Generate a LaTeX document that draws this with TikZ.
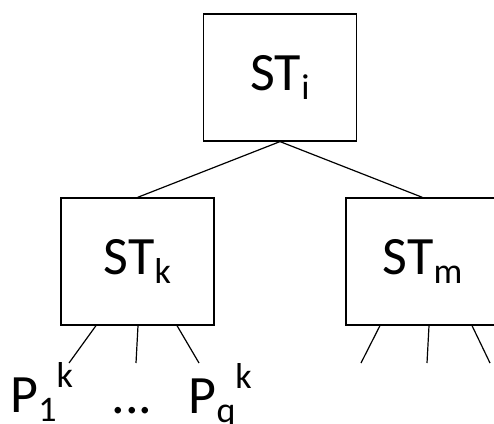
\documentclass[tikz,border=0pt]{standalone}
\usepackage{fontspec}
\setmainfont{Carlito}
\usepackage{tikz}
\newcommand\lowsub[1]{\raisebox{-9pt}{\fontsize{36}{40}\selectfont #1}}
\newcommand\highsup[1]{\raisebox{25pt}{\fontsize{36}{40}\selectfont #1}}
\begin{document}
\begin{tikzpicture}[x=1pt,y=-1pt,line width=1.2pt]
\tikzstyle{tree}=[draw=black,minimum width=153pt,minimum height=127pt,inner sep=0pt,font=\fontsize{54}{60}\selectfont]
\tikzstyle{leaf}=[anchor=base west,inner sep=0pt,font=\fontsize{54}{60}\selectfont]
\useasboundingbox (0,0) rectangle (494,423);
\node[tree] (sti) at (280,77.5) {ST\lowsub{i}};
\node[tree] (stk) at (137.5,261.5) {ST\lowsub{k}};
\node[tree] (stm) at (422.5,261.5) {ST\lowsub{m}};
\draw (sti.south) -- (stk.north);
\draw (sti.south) -- (stm.north);
% legs below the lower boxes
\coordinate (k1) at (69,363);
\coordinate (k2) at (136,363);
\coordinate (k3) at (199,363);
\coordinate (m1) at (361,363);
\coordinate (m2) at (427,363);
\coordinate (m3) at (490,363);
\draw ([xshift=-41.5pt]stk.south) -- (k1);
\draw ([xshift=0.5pt]stk.south) -- (k2);
\draw ([xshift=39.5pt]stk.south) -- (k3);
\draw ([xshift=-42.5pt]stm.south) -- (m1);
\draw ([xshift=6.5pt]stm.south) -- (m2);
\draw ([xshift=49.5pt]stm.south) -- (m3);
% leaf labels
\node[leaf] (p1) at (10,412) {P\lowsub{1}\highsup{k}};
\node[leaf] (dots) at (111,413) {...};
\node[leaf] (pq) at (188,413) {P\lowsub{q}\highsup{k}};
\end{tikzpicture}
\end{document}
